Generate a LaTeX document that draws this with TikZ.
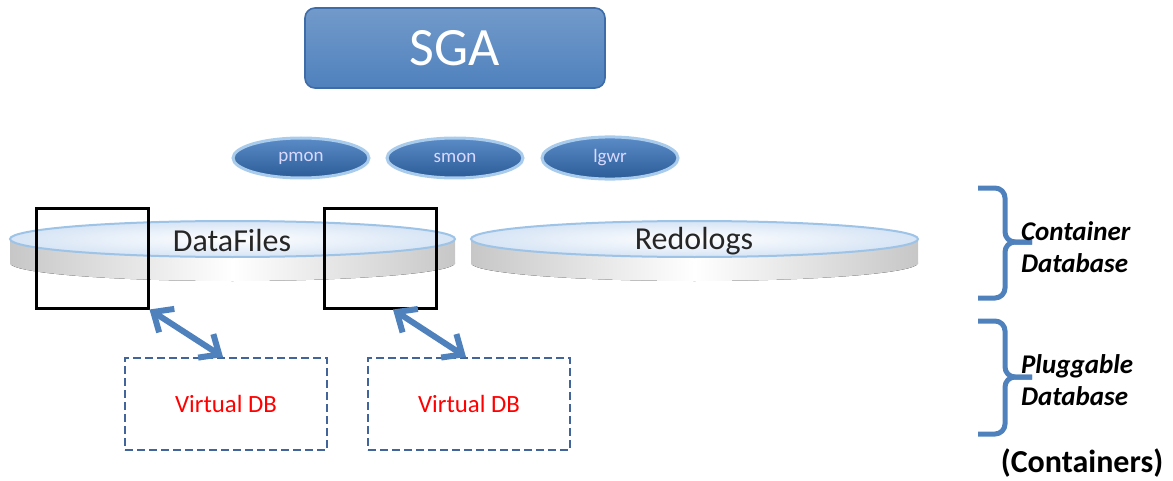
\documentclass[tikz,border=0pt]{standalone}
\usepackage{fontspec}
\setmainfont{Carlito}
\usetikzlibrary{arrows.meta,shapes.geometric,calc}
\definecolor{sgablue}{RGB}{79,129,189}
\definecolor{sgadark}{RGB}{62,108,168}
\definecolor{procdark}{RGB}{44,92,152}
\definecolor{proclight}{RGB}{92,140,200}
\definecolor{procrim}{RGB}{170,204,236}
\definecolor{diskrim}{RGB}{157,195,230}
\definecolor{disktop}{RGB}{214,228,245}
\definecolor{vdbline}{RGB}{65,101,154}

\begin{document}
\begin{tikzpicture}[x=0.5pt,y=-0.5pt,
    sga/.style={rectangle, rounded corners=5pt, minimum width=150pt, minimum height=40pt,
      top color=sgablue!80!white, bottom color=sgablue, draw=sgadark, line width=0.8pt,
      text=white, font=\fontsize{27}{30}\selectfont},
    proc/.style={ellipse, minimum width=68pt, minimum height=20pt,
      top color=proclight, bottom color=procdark, draw=procrim, line width=1.5pt,
      text=white!85!blue, font=\fontsize{9.5}{10}\selectfont},
    disklabel/.style={font=\fontsize{16}{18}\selectfont, text=black!85},
    diskside/.style={left color=black!22, right color=black!22, middle color=white},
    sq/.style={rectangle, draw=black, line width=1.5pt, minimum width=56pt, minimum height=50pt},
    vdb/.style={rectangle, draw=vdbline, line width=1pt, dash pattern=on 4pt off 2pt,
      minimum width=101pt, minimum height=46pt, text=red, font=\fontsize{12.4}{14}\selectfont},
    link/.style={{Straight Barb[length=8pt,width=14pt]}-{Straight Barb[length=8pt,width=14pt]},
      draw=sgablue, line width=3pt},
    brc/.style={draw=sgablue, line width=2.5pt, rounded corners=5pt},
    side/.style={anchor=west, align=left, font=\fontsize{13.5}{16}\selectfont\bfseries\itshape}]
  \useasboundingbox (0,0) rectangle (1173,481);

  \node[sga] (sga) at (455,48) {SGA};

  \node[proc] (pmon) at (301,158) {pmon};
  \node[proc] (smon) at (455,158) {smon};
  \node[proc] (lgwr) at (610,158) {lgwr};

  % disks
  \fill[diskside] (232.5,263) ellipse [x radius=222.5, y radius=18];
  \fill[diskside] (10,239) rectangle (455,263);
  \draw[diskrim, line width=1pt, inner color=white, outer color=disktop] (232.5,239) ellipse [x radius=222.5, y radius=18];
  \node[disklabel] (df) at (232,241) {DataFiles};

  \fill[diskside] (694.5,263) ellipse [x radius=223.5, y radius=18];
  \fill[diskside] (471,239) rectangle (918,263);
  \draw[diskrim, line width=1pt, inner color=white, outer color=disktop] (694.5,239) ellipse [x radius=223.5, y radius=18];
  \node[disklabel] (redo) at (694,241) {Redologs};

  \node[sq] (sqL) at (92,258) {};
  \node[sq] (sqR) at (380,258) {};

  \node[vdb] (vdbL) at (226,404) {Virtual DB};
  \node[vdb] (vdbR) at (469,404) {Virtual DB};

  \draw[link] (sqL.south east) -- ($(vdbL.north)+(-3,0)$);
  \draw[link] ($(sqR.south)+(13,0)$) -- ($(vdbR.north)+(-3,0)$);

  % braces
  \draw[brc] (978,188) -| (1005,242) -- (1032,242);
  \draw[brc] (1032,242) -- (1005,242) |- (978,298);
  \draw[brc] (978,321) -| (1005,377) -- (1032,377);
  \draw[brc] (1032,377) -- (1005,377) |- (978,434);
  \node[side] (cdb) at (1014,247) {Container\\Database};
  \node[side] (pdb) at (1014,380) {Pluggable\\Database};
  \node[font=\fontsize{16}{18}\selectfont\bfseries] (cont) at (1082,463) {(Containers)};
\end{tikzpicture}
\end{document}
